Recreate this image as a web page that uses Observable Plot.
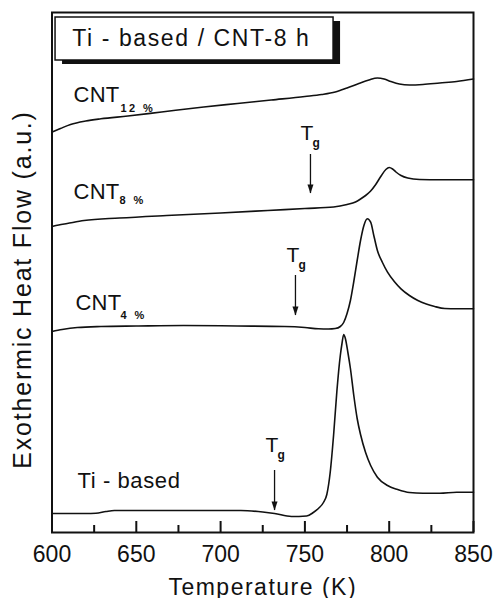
<!DOCTYPE html>
<html><head><meta charset="utf-8">
<script src="https://cdn.jsdelivr.net/npm/d3@7"></script>
<script src="https://cdn.jsdelivr.net/npm/@observablehq/plot@0.6"></script>
<style>
html,body{margin:0;padding:0;background:#fff;}
#chart svg{display:block;}
</style></head><body><div id="chart"></div>
<script>
// Temperatures (K) and exothermic heat flow (a.u.)
const cnt12Temp = [600,605,611,620,629,645,665,690,710,730,750,760,768,775,782,788,793,797,801,806,812,820,830,840,850];
const cnt12Flow = [40.05,40.4,40.8,41.15,41.37,41.65,42.05,42.55,42.9,43.25,43.6,43.8,44.05,44.45,44.9,45.25,45.45,45.35,45.1,44.85,44.75,44.8,44.95,45.1,45.35];

const cnt8Temp = [600,604,609,619,640,668,700,728,750,767,775,780,783,786,789,792,795,798,800,802,804,807,811,818,830,850];
const cnt8Flow = [30.6,30.75,30.9,31.2,31.45,31.7,31.95,32.2,32.4,32.55,32.8,33.05,33.35,33.7,34.15,34.8,35.6,36.3,36.5,36.35,36.05,35.7,35.45,35.3,35.27,35.27];

const cnt4Temp = [600,606,615,629,650,678,710,738,750,758,764,768,771,773,775,777,779,781,783,785,787,789,791,793,796,799,803,807,812,817,822,827,833,840,850];
const cnt4Flow = [20.1,20.3,20.5,20.6,20.65,20.7,20.65,20.6,20.5,20.37,20.35,20.4,20.6,21.0,21.9,23.2,25.1,27.2,29.2,30.7,31.37,31.03,29.6,28.2,27.0,26.03,25.1,24.37,23.7,23.2,22.85,22.6,22.4,22.37,22.37];

const tiTemp = [600,620,626,632,637,660,690,712,725,732,742,751,755,758,761,763,765,767,769,771,772,773,774,775.5,777,779,781,783,786,789,793,799,805,812,820,830,840,850];
const tiFlow = [1.9,1.9,1.93,2.1,2.2,2.2,2.2,2.2,2.05,1.9,1.6,1.65,2.0,2.4,3.0,3.8,6.0,9.7,14.2,17.7,18.9,19.8,19.4,18.0,16.4,13.7,11.4,9.8,8.0,6.7,5.53,4.7,4.3,4.0,3.93,3.93,4.03,4.03];

// Axis ticks
const majorTicks = [600,650,700,750,800,850];
const minorTicks = [625,675,725,775,825];

// Curve labels
const labelText = ["CNT","CNT","CNT","Ti - based"];
const labelTemp = [612.75,612.75,613.9,615.1];
const labelFlow = [43.03,33.37,22.3,4.47];
const subText = ["12 %","8 %","4 %"];
const subTemp = [640.6,640.0,640.6];
const subFlow = [42.03,32.87,21.37];

// Glass transition (Tg) markers
const tgTemp = [753.3,744.4,732.0];
const tgArrowTop = [37.8,25.7,6.2];
const tgArrowBottom = [33.9,21.7,2.2];
const tgLabelTemp = [747.4,739.1,726.6];
const tgLabelFlow = [39.27,27.03,8.03];

// Title box
const titleText = "Ti - based / CNT-8 h";
const titleBoxTemp = [602.1,767.0];
const titleBoxFlow = [47.2,51.5];
const titleTextTemp = 612.0;
const titleTextFlow = 48.7;

const xTitle = "Temperature (K)";
const yTitle = "Exothermic Heat Flow (a.u.)";

const series = [
  ["CNT12", cnt12Temp, cnt12Flow],
  ["CNT8", cnt8Temp, cnt8Flow],
  ["CNT4", cnt4Temp, cnt4Flow],
  ["Ti", tiTemp, tiFlow]
];
const lineData = series.flatMap(([s, T, F]) => T.map((t, i) => ({s, t, f: F[i]})));
const tgIdx = tgTemp.map((d, i) => i);

const arrowHead = {
  draw(ctx) {
    ctx.moveTo(0, 0);
    ctx.lineTo(-3, -9);
    ctx.lineTo(3, -9);
    ctx.closePath();
  }
};

const chart = Plot.plot({
  width: 494,
  height: 598,
  marginLeft: 51.5,
  marginRight: 21,
  marginTop: 12,
  marginBottom: 66,
  x: {domain: [600, 850]},
  y: {domain: [0, 52], axis: null},
  style: {fontFamily: "'Liberation Sans', Arial, sans-serif", background: "#fff", color: "#111"},
  marks: [
    Plot.axisX(majorTicks, {tickSize: 0, tickPadding: 13, fontSize: 23, label: null}),
    Plot.axisX(majorTicks, {tickSize: -11, text: null, stroke: "#111", strokeWidth: 2, label: null}),
    Plot.axisX(minorTicks, {tickSize: -7, text: null, stroke: "#111", strokeWidth: 2, label: null}),
    Plot.line(lineData, {x: "t", y: "f", z: "s", curve: "monotone-x", stroke: "#111", strokeWidth: 1.6}),
    Plot.rect([0], {x1: () => titleBoxTemp[0], x2: () => titleBoxTemp[1], y1: () => titleBoxFlow[0], y2: () => titleBoxFlow[1], dx: 7, dy: 4, fill: "#111"}),
    Plot.rect([0], {x1: () => titleBoxTemp[0], x2: () => titleBoxTemp[1], y1: () => titleBoxFlow[0], y2: () => titleBoxFlow[1], fill: "#fff", stroke: "#111", strokeWidth: 1.5}),
    Plot.text([titleText], {x: () => titleTextTemp, y: () => titleTextFlow, text: d => d, textAnchor: "start", lineAnchor: "bottom", fontSize: 23}),
    Plot.text(labelText, {x: (d, i) => labelTemp[i], y: (d, i) => labelFlow[i], text: d => d, textAnchor: "start", lineAnchor: "bottom", fontSize: 22}),
    Plot.text(subText, {x: (d, i) => subTemp[i], y: (d, i) => subFlow[i], text: d => d, textAnchor: "start", lineAnchor: "bottom", fontSize: 11, fontWeight: "bold"}),
    Plot.ruleX(tgIdx, {x: i => tgTemp[i], y1: i => tgArrowTop[i], y2: i => tgArrowBottom[i], stroke: "#111", strokeWidth: 1.3}),
    Plot.dot(tgIdx, {x: i => tgTemp[i], y: i => tgArrowBottom[i], symbol: arrowHead, fill: "#111", stroke: "none"}),
    Plot.text(tgIdx, {x: i => tgLabelTemp[i], y: i => tgLabelFlow[i], text: () => "T", textAnchor: "start", lineAnchor: "bottom", fontSize: 21}),
    Plot.text(tgIdx, {x: i => tgLabelTemp[i], y: i => tgLabelFlow[i], text: () => "g", textAnchor: "start", lineAnchor: "bottom", dx: 12, dy: 7, fontSize: 12, fontWeight: "bold"}),
    Plot.text([xTitle], {frameAnchor: "bottom", textAnchor: "middle", lineAnchor: "bottom", dy: 62, fontSize: 23}),
    Plot.text([yTitle], {frameAnchor: "left", textAnchor: "middle", rotate: -90, dx: -29.5, dy: 17, fontSize: 25, lineAnchor: "middle"}),
    Plot.frame({stroke: "#111", strokeWidth: 2})
  ]
});

// letter spacing to match the wide lettering of the original
const spacing = new Map([
  [titleText, "1.6px"],
  [xTitle, "1.5px"],
  [yTitle, "1.8px"],
  ["CNT", "0.3px"],
  ["Ti - based", "0.6px"],
  ...subText.map(s => [s, "2.4px"])
]);
d3.select(chart).selectAll("text").each(function () {
  const ls = spacing.get(this.textContent);
  if (ls) this.style.letterSpacing = ls;
});
document.getElementById("chart").appendChild(chart);
</script></body></html>
